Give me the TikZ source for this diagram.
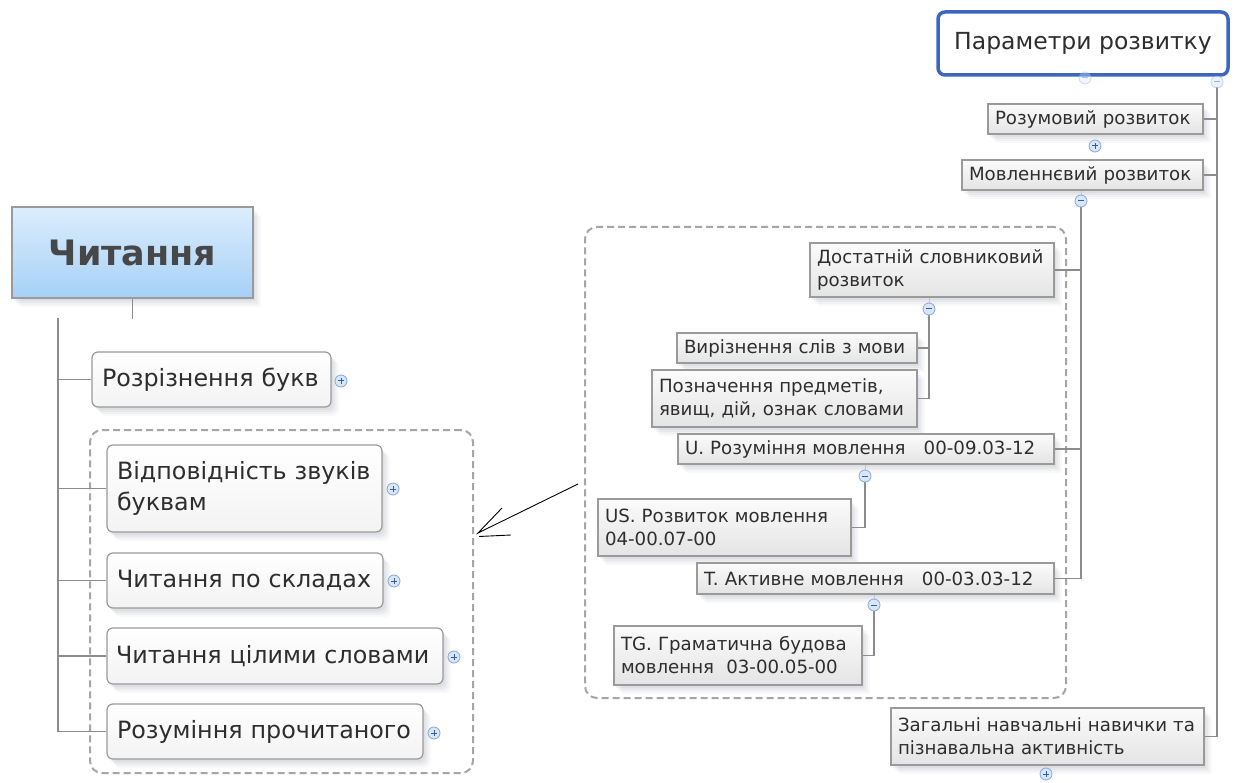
\documentclass[tikz,border=0pt]{standalone}
\usepackage{fontspec}
\setmainfont{DejaVu Sans}
\usetikzlibrary{shadows,calc}
\definecolor{conn}{HTML}{8C8C8C}
\definecolor{boxb}{HTML}{9A9A9A}
\definecolor{txt}{HTML}{2E2E2E}
\definecolor{rtop}{HTML}{FBFBFB}
\definecolor{rbot}{HTML}{E4E4E4}
\definecolor{lbot}{HTML}{F3F3F3}
\definecolor{dashc}{HTML}{A6A6A6}
\definecolor{icf}{HTML}{D8E6FA}
\definecolor{icb}{HTML}{86A8DA}
\definecolor{icd}{HTML}{3C5C96}
\definecolor{blueb}{HTML}{3D67BD}
\definecolor{ctop}{HTML}{DCEEFD}
\definecolor{cbot}{HTML}{A5D0F6}
\definecolor{shc}{HTML}{8A93A0}
\tikzset{
  shd/.style={
    drop shadow={shadow xshift=8pt, shadow yshift=-9pt, opacity=0.05, fill=shc},
    drop shadow={shadow xshift=6pt, shadow yshift=-7pt, opacity=0.07, fill=shc},
    drop shadow={shadow xshift=4pt, shadow yshift=-5pt, opacity=0.09, fill=shc},
    drop shadow={shadow xshift=2pt, shadow yshift=-3pt, opacity=0.10, fill=shc}},
  lbox/.style={shd, draw=boxb, line width=1.2pt, rounded corners=6pt, top color=white, bottom color=lbot,
    text=txt, align=left, inner xsep=10pt, inner ysep=0pt, font=\fontsize{23.8}{31}\selectfont},
  rbox/.style={shd, draw=boxb, line width=1.1pt, top color=rtop, bottom color=rbot,
    text=txt, align=left, inner xsep=7pt, inner ysep=0pt, font=\fontsize{18.2}{23}\selectfont},
  grp/.style={draw=dashc, line width=2pt, dash pattern=on 7pt off 4pt, rounded corners=12pt},
  cn/.style={draw=conn, line width=1.6pt},
  pluspic/.pic={\draw[icb, fill=icf, line width=0.8pt] (0,0) circle (6);
    \draw[icd, line width=1pt] (-3,0)--(3,0) (0,-3)--(0,3);},
  minuspic/.pic={\draw[icb, fill=icf, line width=0.8pt] (0,0) circle (6);
    \draw[icd, line width=1pt] (-3,0)--(3,0);},
}
\begin{document}
\begin{tikzpicture}[x=1pt,y=-1pt]
\useasboundingbox[fill=white] (0,0) rectangle (1245,783);
% groups
\node[grp, minimum width=383pt, minimum height=343pt, inner sep=0pt] (lgrp) at (281.5,601.5) {};
\node[grp, minimum width=481pt, minimum height=471pt, inner sep=0pt] (rgrp) at (825.5,462.5) {};
% left side
\node[shd, draw=boxb, line width=1.2pt, top color=ctop, bottom color=cbot, minimum width=241pt, minimum height=91pt,
  font=\fontsize{35}{40}\selectfont\bfseries, text=black!72] (chyt) at (132.5,252.5) {Читання};
\node[lbox, text width=219pt, minimum height=55pt] (rozr) at (211.5,379.5) {Розрізнення букв};
\node[lbox, text width=255pt, minimum height=87pt] (vidp) at (244.5,488.5) {Відповідність звуків\\буквам};
\node[lbox, text width=256pt, minimum height=55pt] (sklad) at (245,580.5) {Читання по складах};
\node[lbox, text width=318pt, inner xsep=9pt, minimum height=56pt] (tsil) at (275,656) {Читання цілими словами};
\node[lbox, text width=296pt, minimum height=55pt] (rozpr) at (265,731.5) {Розуміння прочитаного};
\pic at (341,381) {pluspic};
\pic at (393,489) {pluspic};
\pic at (394,581) {pluspic};
\pic at (454,657) {pluspic};
\pic at (434,733) {pluspic};
\coordinate (lT) at (58,318);
\draw[cn] (chyt.south) -- ++(0,20);
\draw[cn] (lT) |- (rozpr.west);
\foreach \n in {rozr,vidp,sklad,tsil} \draw[cn] (\n.west) -- (\n.west -| lT);
% right side
\node[draw=blueb, line width=3.5pt, rounded corners=7pt, fill=white, minimum width=290pt, minimum height=63pt,
  font=\fontsize{23.5}{28}\selectfont, text=txt] (pr) at (1083,43.5) {Параметри розвитку};
\node[rbox, text width=201pt, minimum height=30pt] (rozum) at (1095.5,119) {Розумовий розвиток};
\node[rbox, text width=227pt, minimum height=30pt] (movl) at (1082.5,175) {Мовленнєвий розвиток};
\node[rbox, text width=230pt, minimum height=54pt] (dost) at (932,270) {Достатній словниковий\\розвиток};
\node[rbox, text width=226pt, minimum height=30pt] (vyr) at (797,348) {Вирізнення слів з мови};
\node[rbox, text width=251pt, minimum height=57pt] (pozn) at (784.5,398.5) {Позначення предметів,\\явищ, дій, ознак словами};
\node[rbox, text width=362pt, minimum height=30pt] (umov) at (866,449) {U. Розуміння мовлення\ \ \ 00-09.03-12};
\node[rbox, text width=239pt, minimum height=57pt] (us) at (724.5,527.5) {US. Розвиток мовлення\\04-00.07-00};
\node[rbox, text width=343pt, minimum height=31pt] (akt) at (875.5,578.5) {T. Активне мовлення\ \ \ 00-03.03-12};
\node[rbox, text width=234pt, minimum height=59pt] (tg) at (738,655.5) {TG. Граматична будова\\мовлення\ \ 03-00.05-00};
\node[rbox, text width=299pt, minimum height=57pt] (zag) at (1047.5,736.5) {Загальні навчальні навички та\\пізнавальна активність};
% icons and connectors
\coordinate (prI) at (1217,82);
\coordinate (movlI) at (1081,201);
\coordinate (dostI) at (929,309);
\coordinate (umovI) at (865,476);
\coordinate (aktI) at (874,605);
\draw[cn] ($(prI)+(0,5)$) |- (zag.east);
\draw[cn] (rozum.east) -- (rozum.east -| prI);
\draw[cn] (movl.east) -- (movl.east -| prI);
\draw[cn] ($(movlI)+(0,5)$) |- (akt.east);
\draw[cn] (dost.east) -- (dost.east -| movlI);
\draw[cn] (umov.east) -- (umov.east -| movlI);
\draw[cn] ($(dostI)+(0,5)$) |- (pozn.east);
\draw[cn] (vyr.east) -- (vyr.east -| dostI);
\draw[cn] ($(umovI)+(0,5)$) |- (us.east);
\draw[cn] ($(aktI)+(0,5)$) |- (tg.east);
\draw[conn!50, line width=1pt] (movl.south -| movlI) -- (movlI);
\draw[conn!50, line width=1pt] (dost.south -| dostI) -- (dostI);
\draw[conn!50, line width=1pt] (umov.south -| umovI) -- (umovI);
\draw[conn!50, line width=1pt] (akt.south -| aktI) -- (aktI);
\pic[opacity=0.35] at (1085,78) {minuspic};
\pic[opacity=0.45] at (prI) {minuspic};
\pic at (1095,146) {pluspic};
\pic at (movlI) {minuspic};
\pic at (dostI) {minuspic};
\pic at (umovI) {minuspic};
\pic at (aktI) {minuspic};
\pic at (1046,774) {pluspic};
% hand-drawn arrow
\coordinate (aS) at (578,484);
\coordinate (aT) at (478,533);
\coordinate (aH1) at (502,508);
\coordinate (aH2a) at (479,536.5);
\coordinate (aH2b) at (511,535);
\draw[black, line width=0.9pt] (aS) -- (aT) -- (aH1);
\draw[black, line width=0.9pt] (aH2a) -- (aH2b);
\end{tikzpicture}
\end{document}
